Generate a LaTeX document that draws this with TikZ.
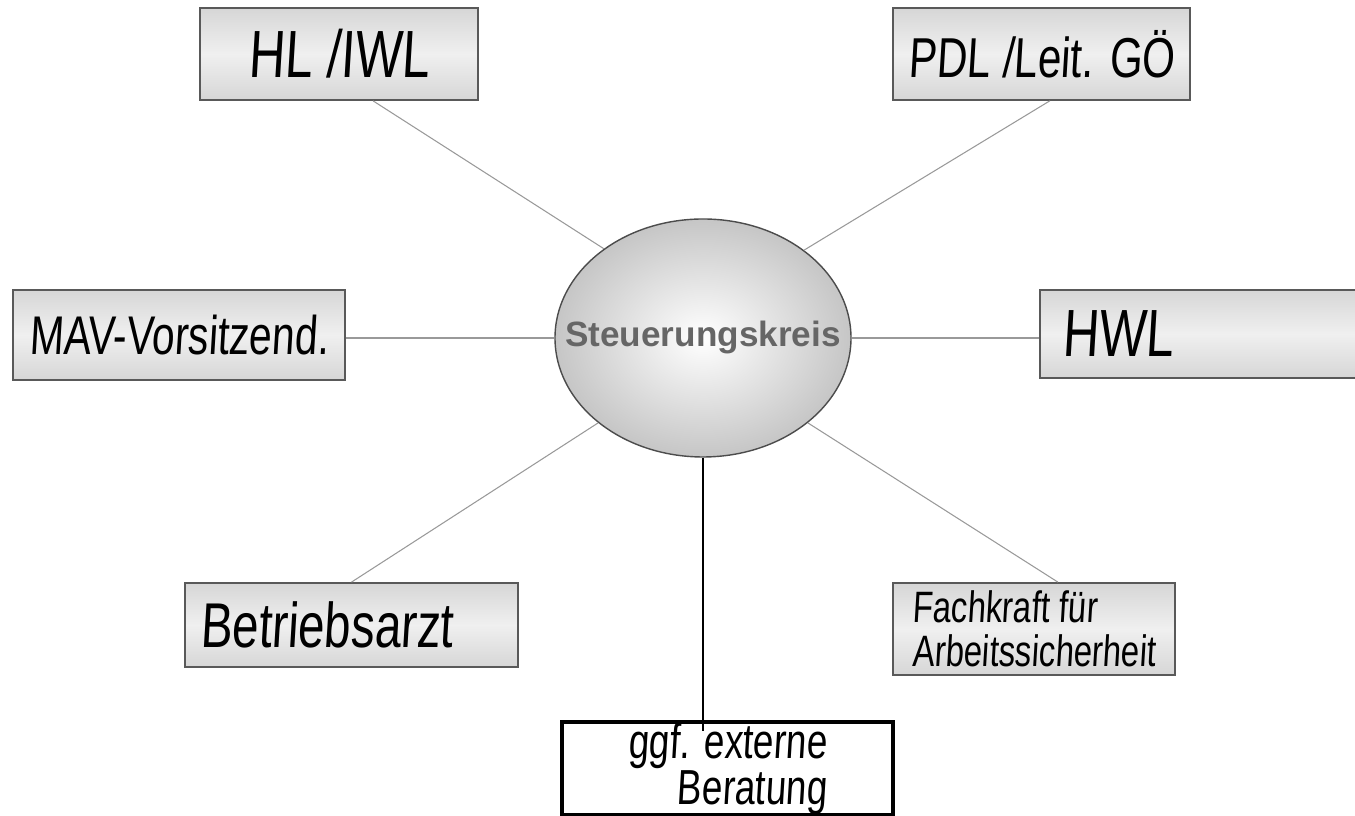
\documentclass[tikz,border=0pt]{standalone}
\usepackage{fontspec}
\setmainfont{Liberation Sans}
\newfontfamily\handfont[FakeStretch=0.75, FakeSlant=0.06]{Liberation Sans}
\usepackage{xcolor}
\usepackage{tikz}
\usetikzlibrary{positioning, calc, shapes.geometric}
\newcommand{\hand}[2]{\handfont\fontsize{#1}{#2}\selectfont}

\begin{document}
\begin{tikzpicture}[
    gbox/.style={draw=black!65, line width=1pt, top color=gray!32, bottom color=gray!32, middle color=gray!12, inner sep=0pt, align=center},
    spoke/.style={gray!80, line width=0.6pt}
]
    \useasboundingbox (0,0) rectangle (27.1,16.32);

    % 中心
    \node[draw=black!70, line width=0.8pt, ellipse, minimum width=5.92cm, minimum height=4.76cm, inner sep=0pt,
        shading=radial, inner color=white, outer color=gray!45,
        label={[font=\bfseries\fontsize{20}{20}\selectfont, text=black!60]center:Steuerungskreis}] (sk) at (14.06, 9.56) {};

    % 外围方框
    \node[gbox, minimum width=5.56cm, minimum height=1.84cm, font=\hand{38}{38}] (hl) at (6.78, 15.24) {HL /IWL};
    \node[gbox, minimum width=5.94cm, minimum height=1.84cm, font=\hand{32}{32}] (pdl) at (20.83, 15.24) {PDL /Leit. GÖ};
    \node[gbox, minimum width=6.64cm, minimum height=1.80cm, font=\hand{31}{31}] (mav) at (3.58, 9.62) {MAV-Vorsitzend.};
    \node[gbox, minimum height=1.76cm, text width=5.72cm, inner xsep=0.44cm, align=left, font=\hand{38}{38}] (hwl) at (24.1, 9.64) {HWL};
    \node[gbox, minimum height=1.68cm, text width=6.06cm, inner xsep=0.3cm, align=left, font=\hand{36}{36}] (ba) at (7.03, 3.82) {Betriebsarzt};
    \node[gbox, minimum width=5.64cm, minimum height=1.84cm, align=left, font=\hand{25}{25}] (fk) at (20.68, 3.74) {Fachkraft für\\Arbeitssicherheit};
    \node[draw, line width=2pt, fill=white, minimum width=6.62cm, minimum height=1.86cm, inner sep=0pt, align=right, font=\hand{28}{24}] (ber) at (14.55, 0.95) {ggf. externe\\Beratung};

    % 连线
    \draw[spoke] (hl.-54) -- (sk.138);
    \draw[spoke] (pdl.-80) -- (sk.41);
    \draw[spoke] (sk.west) -- (sk.west -| mav.east);
    \draw[spoke] (sk.east) -- (sk.east -| hwl.west);
    \draw[spoke] (ba.north) -- (sk.-141);
    \draw[spoke] (fk.63) -- (sk.-39);

    \coordinate (berTop) at ($(sk.south |- ber.north)+(0,-0.22)$);
    \draw[line width=1.6pt] (sk.south) -- (berTop);
\end{tikzpicture}
\end{document}
